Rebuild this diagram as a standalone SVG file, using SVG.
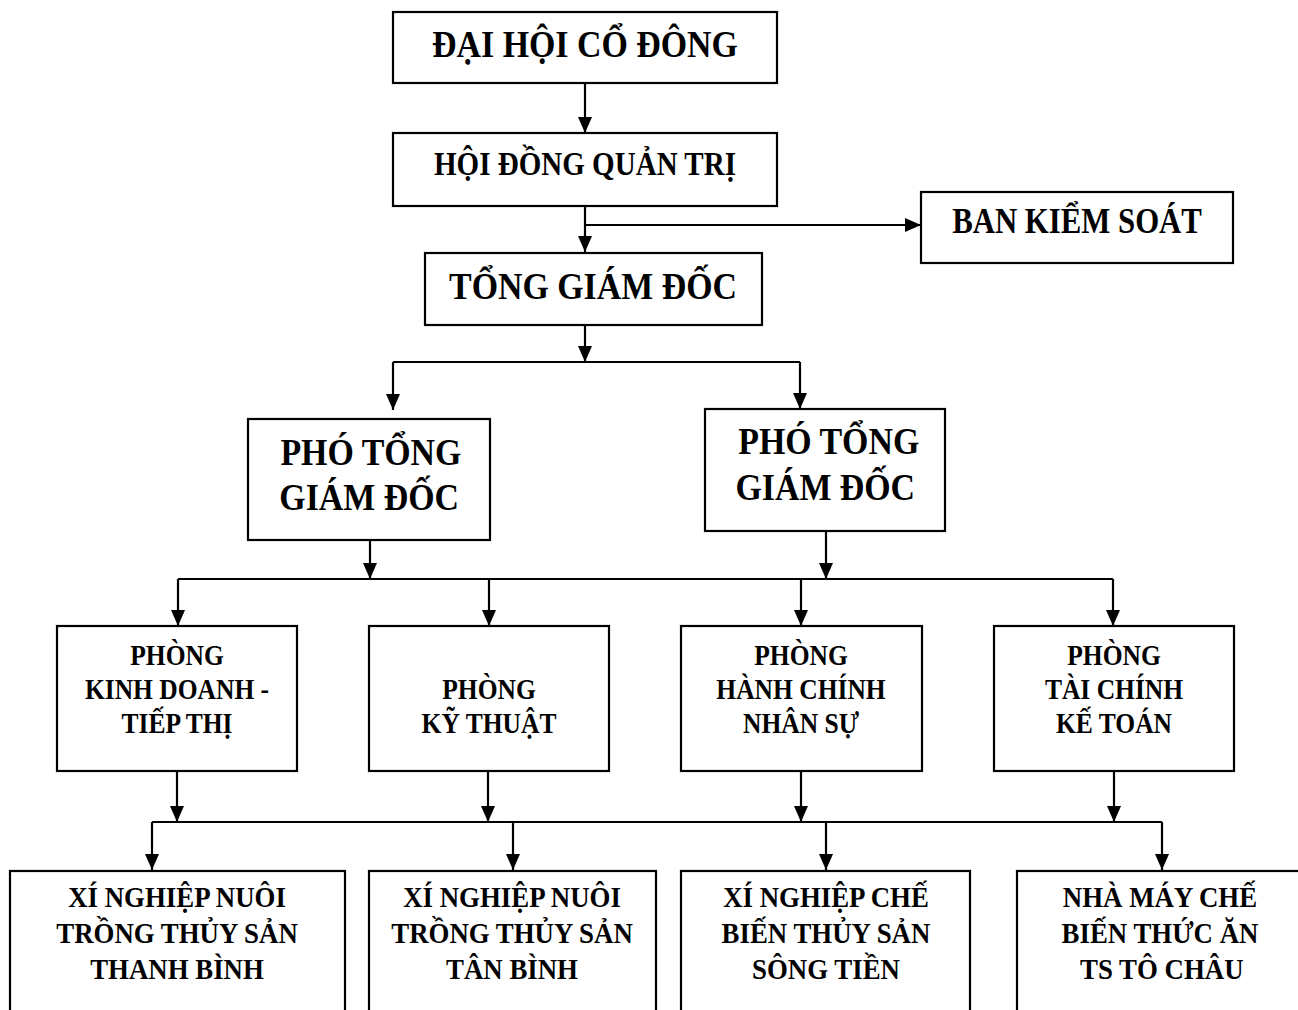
<svg xmlns="http://www.w3.org/2000/svg" width="1298" height="1010" viewBox="0 0 1298 1010">
<style>
.box{fill:#fff;stroke:#000;stroke-width:2.2}
.t{font-family:"Liberation Serif","Times New Roman","DejaVu Serif",serif;font-weight:bold;fill:#000;text-anchor:middle}
.conn path{fill:none;stroke:#000;stroke-width:2.2}
</style>
<defs>
<marker id="ah" viewBox="0 0 16 14" refX="16" refY="7" markerWidth="16" markerHeight="14" markerUnits="userSpaceOnUse" orient="auto">
<path d="M0,0 L16,7 L0,14 z" fill="#000"/>
</marker>
</defs>
<rect width="1298" height="1010" fill="#fff"/>

<g class="conn">
<path d="M585,84 V133" marker-end="url(#ah)"/>
<path d="M585,206 V252" marker-end="url(#ah)"/>
<path d="M585,225 H921" marker-end="url(#ah)"/>
<path d="M585,325 V362" marker-end="url(#ah)"/>
<path d="M393,362 H800"/>
<path d="M393,362 V410" marker-end="url(#ah)"/>
<path d="M800,362 V409" marker-end="url(#ah)"/>
<path d="M370,540 V579" marker-end="url(#ah)"/>
<path d="M826,531 V579" marker-end="url(#ah)"/>
<path d="M178,579 H1113"/>
<path d="M178,579 V626" marker-end="url(#ah)"/>
<path d="M489,579 V626" marker-end="url(#ah)"/>
<path d="M801,579 V626" marker-end="url(#ah)"/>
<path d="M1113,579 V626" marker-end="url(#ah)"/>
<path d="M177,771 V822" marker-end="url(#ah)"/>
<path d="M488,771 V822" marker-end="url(#ah)"/>
<path d="M801,771 V822" marker-end="url(#ah)"/>
<path d="M1114,771 V822" marker-end="url(#ah)"/>
<path d="M152,822 H1162"/>
<path d="M152,822 V870" marker-end="url(#ah)"/>
<path d="M513,822 V870" marker-end="url(#ah)"/>
<path d="M826,822 V870" marker-end="url(#ah)"/>
<path d="M1162,822 V870" marker-end="url(#ah)"/>
</g>

<g id="dai-hoi-co-dong">
<rect class="box" x="393" y="12" width="384" height="71"/>
<text class="t" transform="matrix(0.88 0 0 1 585 0)" x="0" y="57" font-size="38.5">ĐẠI HỘI CỔ ĐÔNG</text>
</g>
<g id="hoi-dong-quan-tri">
<rect class="box" x="393" y="133" width="384" height="73"/>
<text class="t" transform="matrix(0.88 0 0 1 585 0)" x="0" y="175" font-size="33">HỘI ĐỒNG QUẢN TRỊ</text>
</g>
<g id="ban-kiem-soat">
<rect class="box" x="921" y="192" width="312" height="71"/>
<text class="t" transform="matrix(0.88 0 0 1 1077 0)" x="0" y="233" font-size="35">BAN KIỂM SOÁT</text>
</g>
<g id="tong-giam-doc">
<rect class="box" x="425" y="253" width="337" height="72"/>
<text class="t" transform="matrix(0.88 0 0 1 593 0)" x="0" y="299" font-size="38.5">TỔNG GIÁM ĐỐC</text>
</g>
<g id="pho-tgd-1">
<rect class="box" x="248" y="419" width="242" height="121"/>
<text class="t" transform="matrix(0.88 0 0 1 370 0)" font-size="38.5"><tspan x="1" y="465">PHÓ TỔNG</tspan><tspan x="-1" y="510">GIÁM ĐỐC</tspan></text>
</g>
<g id="pho-tgd-2">
<rect class="box" x="705" y="409" width="240" height="122"/>
<text class="t" transform="matrix(0.88 0 0 1 827 0)" font-size="38.5"><tspan x="2" y="454">PHÓ TỔNG</tspan><tspan x="-2" y="500">GIÁM ĐỐC</tspan></text>
</g>

<g id="phong-kinh-doanh">
<rect class="box" x="57" y="626" width="240" height="145"/>
<text class="t" transform="matrix(0.88 0 0 1 177 0)" font-size="29"><tspan x="0" y="665">PHÒNG</tspan><tspan x="0" y="699">KINH DOANH -</tspan><tspan x="0" y="733">TIẾP THỊ</tspan></text>
</g>
<g id="phong-ky-thuat">
<rect class="box" x="369" y="626" width="240" height="145"/>
<text class="t" transform="matrix(0.88 0 0 1 489 0)" font-size="29"><tspan x="0" y="699">PHÒNG</tspan><tspan x="0" y="733">KỸ THUẬT</tspan></text>
</g>
<g id="phong-hanh-chinh">
<rect class="box" x="681" y="626" width="241" height="145"/>
<text class="t" transform="matrix(0.88 0 0 1 801 0)" font-size="29"><tspan x="0" y="665">PHÒNG</tspan><tspan x="0" y="699">HÀNH CHÍNH</tspan><tspan x="0" y="733">NHÂN SỰ</tspan></text>
</g>
<g id="phong-tai-chinh">
<rect class="box" x="994" y="626" width="240" height="145"/>
<text class="t" transform="matrix(0.88 0 0 1 1114 0)" font-size="29"><tspan x="0" y="665">PHÒNG</tspan><tspan x="0" y="699">TÀI CHÍNH</tspan><tspan x="0" y="733">KẾ TOÁN</tspan></text>
</g>

<g id="xn-thanh-binh">
<rect class="box" x="10" y="871" width="335" height="150"/>
<text class="t" transform="matrix(0.88 0 0 1 177 0)" font-size="30.5"><tspan x="0" y="907">XÍ NGHIỆP NUÔI</tspan><tspan x="0" y="943">TRỒNG THỦY SẢN</tspan><tspan x="0" y="979">THANH BÌNH</tspan></text>
</g>
<g id="xn-tan-binh">
<rect class="box" x="369" y="871" width="287" height="150"/>
<text class="t" transform="matrix(0.88 0 0 1 512 0)" font-size="30.5"><tspan x="0" y="907">XÍ NGHIỆP NUÔI</tspan><tspan x="0" y="943">TRỒNG THỦY SẢN</tspan><tspan x="0" y="979">TÂN BÌNH</tspan></text>
</g>
<g id="xn-song-tien">
<rect class="box" x="681" y="871" width="289" height="150"/>
<text class="t" transform="matrix(0.88 0 0 1 826 0)" font-size="30.5"><tspan x="0" y="907">XÍ NGHIỆP CHẾ</tspan><tspan x="0" y="943">BIẾN THỦY SẢN</tspan><tspan x="0" y="979">SÔNG TIỀN</tspan></text>
</g>
<g id="nm-to-chau">
<rect class="box" x="1017" y="871" width="300" height="150"/>
<text class="t" transform="matrix(0.88 0 0 1 1160 0)" font-size="30.5"><tspan x="0" y="907">NHÀ MÁY CHẾ</tspan><tspan x="0" y="943">BIẾN THỨC ĂN</tspan><tspan x="2" y="979">TS TÔ CHÂU</tspan></text>
</g>
</svg>
